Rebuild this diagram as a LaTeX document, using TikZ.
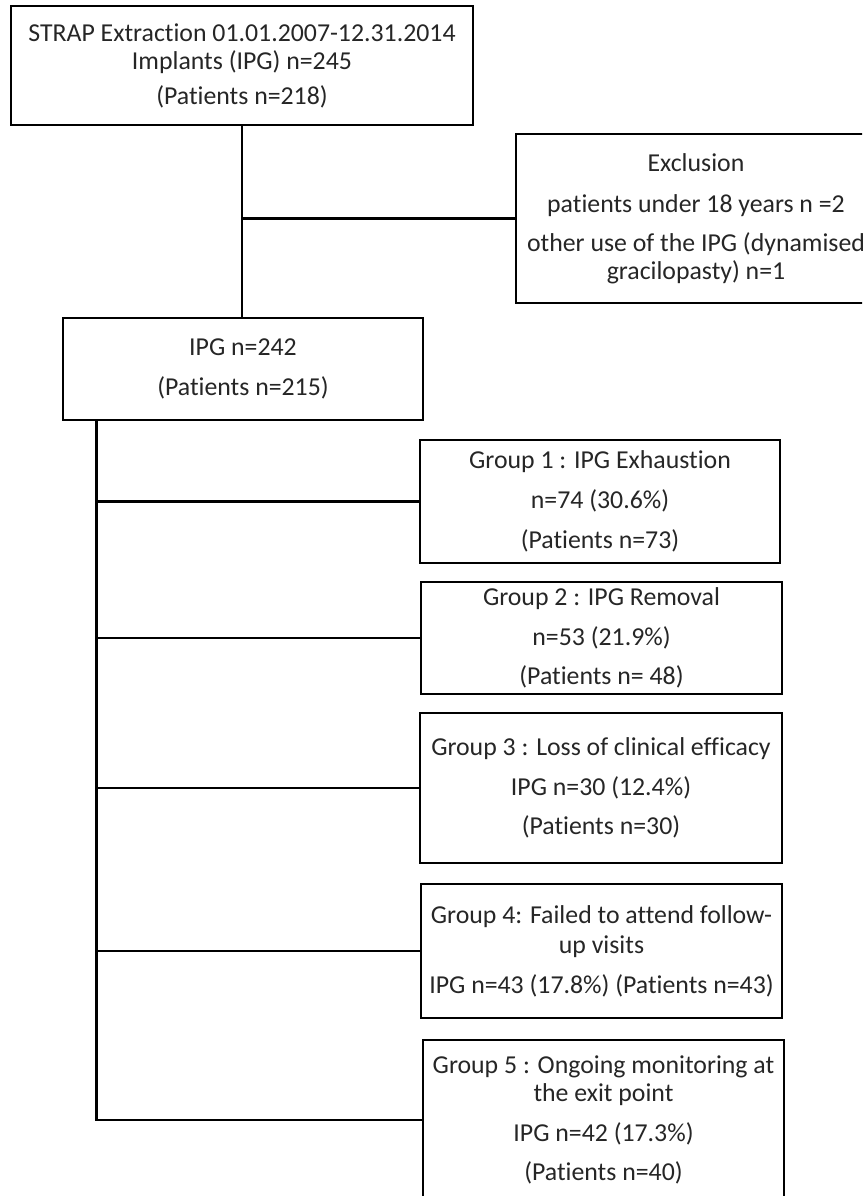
\documentclass[tikz,border=0pt]{standalone}
\usepackage{fontspec}
\setmainfont{Carlito}[Ligatures={NoCommon}]
\begin{document}
\begin{tikzpicture}[x=1pt,y=-1pt]
\tikzset{
  box/.style={draw=black, line width=2.6pt, rectangle, inner sep=0pt, align=center,
    font=\fontsize{25.8}{28}\selectfont, text=black!85},
  link/.style={draw=black, line width=2.6pt}
}
\useasboundingbox (0,0) rectangle (862,1196);
\clip (0,0) rectangle (862,1196);
\fill[white] (0,0) rectangle (862,1196);

\node[box, minimum width=462pt, minimum height=119pt] (top) at (242,65.5)
  {STRAP Extraction 01.01.2007-12.31.2014\\ Implants (IPG) n=245\\[7pt] (Patients n=218)};
\node[box, minimum width=360pt, minimum height=169pt] (excl) at (696,218.5)
  {Exclusion\\[13pt] patients under 18 years n =2\\[11pt] other use of the IPG (dynamised\\ gracilopasty) n=1};
\node[box, minimum width=360pt, minimum height=102pt] (ipg) at (243,369)
  {IPG n=242\\[12pt] (Patients n=215)};
\node[box, minimum width=360pt, minimum height=123pt] (g1) at (600,501.5)
  {Group 1 : IPG Exhaustion\\[12pt] n=74 (30.6\%)\\[12pt] (Patients n=73)};
\node[box, minimum width=361pt, minimum height=112pt] (g2) at (601.5,638)
  {Group 2 : IPG Removal\\[12pt] n=53 (21.9\%)\\[11pt] (Patients n= 48)};
\node[box, minimum width=362pt, minimum height=150pt] (g3) at (601,788)
  {Group 3 : Loss of clinical efficacy\\[12pt] IPG n=30 (12.4\%)\\[11pt] (Patients n=30)};
\node[box, minimum width=361pt, minimum height=134pt] (g4) at (601.5,951)
  {Group 4: Failed to attend follow-\\[2pt] up visits\\[12pt] IPG n=43 (17.8\%) (Patients n=43)};
\node[box, minimum width=361pt, minimum height=160pt] (g5) at (603.5,1120)
  {Group 5 : Ongoing monitoring at\\ the exit point\\[12pt] IPG n=42 (17.3\%)\\[11pt] (Patients n=40)};

\draw[link] (top.south) -- (top.south |- ipg.north);
\draw[link] (top.south |- excl.west) -- (excl.west);

\coordinate (tr) at ([xshift=35pt]ipg.south west);
\draw[link] (tr) |- (g5.west);
\draw[link] (tr |- g1.west) -- (g1.west);
\draw[link] (tr |- g2.west) -- (g2.west);
\draw[link] (tr |- g3.west) -- (g3.west);
\draw[link] (tr |- g4.west) -- (g4.west);
\end{tikzpicture}
\end{document}
